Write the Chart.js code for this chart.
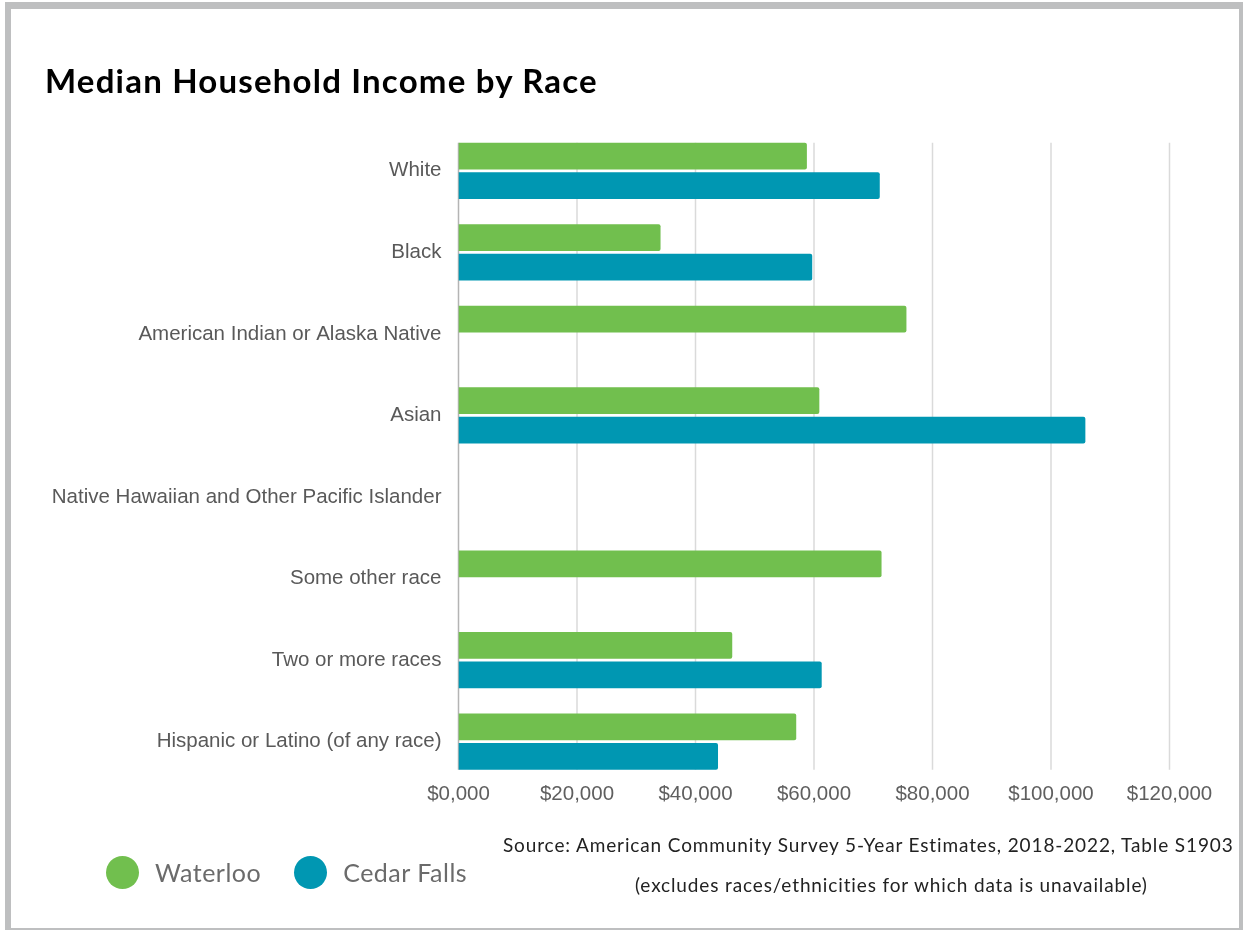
<!DOCTYPE html>
<html>
<head>
<meta charset="utf-8">
<title>Median Household Income by Race</title>
<script src="https://cdn.jsdelivr.net/npm/chart.js@4.4.1/dist/chart.umd.min.js"></script>
<style>
  html, body { margin: 0; padding: 0; background: #fff; }
  body { width: 1243px; height: 930px; position: relative; overflow: hidden; font-family: Lato, sans-serif; }
  #frame { position: absolute; left: 5px; top: 2px; width: 1238px; height: 928px; box-sizing: border-box;
           border-style: solid; border-color: #bebfc0; border-width: 7px 4px 2px 6px; }
  #chart { position: absolute; left: 0; top: 0; }
  #title { position: absolute; left: 45px; top: 64px; font: 700 33px/1 Lato, sans-serif; letter-spacing: 1.2px; color: #000; white-space: nowrap; }
  #legend { position: absolute; left: 106px; top: 855px; height: 34px; display: flex; align-items: center; }
  .item { display: flex; align-items: center; margin-right: 33px; }
  .dot { width: 33px; height: 33px; border-radius: 50%; }
  .lbl { font: 400 25px/1 Lato, sans-serif; letter-spacing: 0.5px; color: #6b6b6b; margin-left: 16px; white-space: nowrap; }
  .src { position: absolute; font: 400 19px/1 Lato, sans-serif; letter-spacing: 0.87px; color: #222; white-space: nowrap; }
  #src1 { left: 503px; top: 835px; }
  #src2 { left: 635px; top: 875px; }
</style>
</head>
<body>
<div id="frame"></div>
<canvas id="chart" width="1243" height="930"></canvas>
<div id="title">Median Household Income by Race</div>
<div id="legend"></div>
<div class="src" id="src1">Source: American Community Survey 5-Year Estimates, 2018-2022, Table S1903</div>
<div class="src" id="src2">(excludes races/ethnicities for which data is unavailable)</div>
<script>
// Categories and median household income (USD) per city
const categories = [
  'White',
  'Black',
  'American Indian or Alaska Native',
  'Asian',
  'Native Hawaiian and Other Pacific Islander',
  'Some other race',
  'Two or more races',
  'Hispanic or Latino (of any race)'
];
const waterloo   = [58800, 34100, 75600, 60900, null, 71400, 46200, 57000];
const cedarFalls = [71100, 59700, null, 105800, null, null, 61300, 43800];
const seriesNames = ['Waterloo', 'Cedar Falls'];
const xTickLabels = ['$0,000', '$20,000', '$40,000', '$60,000', '$80,000', '$100,000', '$120,000'];

const seriesColors = ['#71bf4e', '#0097b2'];

// Vertical value grid spanning the bar block, plus the zero axis line
const valueGrid = {
  id: 'valueGrid',
  beforeDatasetsDraw(chart) {
    const { ctx } = chart;
    const x = chart.scales.x;
    const m0 = chart.getDatasetMeta(0);
    const m1 = chart.getDatasetMeta(1);
    const first = m0.data[0];
    const last = m1.data[m1.data.length - 1];
    const top = first.y - first.height / 2;
    const bottom = last.y + last.height / 2;
    ctx.save();
    x.ticks.forEach((t, i) => {
      if (i === 0) return;
      const px = x.getPixelForValue(t.value);
      ctx.strokeStyle = '#dadada';
      ctx.lineWidth = 1.5;
      ctx.beginPath();
      ctx.moveTo(px, top);
      ctx.lineTo(px, bottom);
      ctx.stroke();
    });
    const x0 = x.getPixelForValue(0);
    ctx.strokeStyle = '#b4b4b4';
    ctx.lineWidth = 1.5;
    ctx.beginPath();
    ctx.moveTo(x0, top);
    ctx.lineTo(x0, bottom);
    ctx.stroke();
    ctx.restore();
  }
};

const chart = new Chart(document.getElementById('chart'), {
  type: 'bar',
  data: {
    labels: categories,
    datasets: [
      { label: seriesNames[0], data: waterloo, backgroundColor: seriesColors[0] },
      { label: seriesNames[1], data: cedarFalls, backgroundColor: seriesColors[1] }
    ]
  },
  options: {
    responsive: false,
    animation: false,
    indexAxis: 'y',
    layout: { padding: { left: 0, right: 73.5, top: 130, bottom: 107.5 } },
    datasets: { bar: { categoryPercentage: 0.7235, barPercentage: 0.905, borderRadius: 2 } },
    plugins: { legend: { display: false }, tooltip: { enabled: false } },
    scales: {
      x: {
        min: 0, max: 120000,
        ticks: {
          stepSize: 20000, autoSkip: false, maxRotation: 0, padding: 0,
          color: '#5f5f5f', font: { family: "'Liberation Sans', Arial, sans-serif", size: 20.5 },
          callback: (v, i) => xTickLabels[i]
        },
        grid: { display: false, drawTicks: false },
        border: { display: false },
        afterFit: s => { s.height = 40; }
      },
      y: {
        ticks: { autoSkip: false, padding: 17, color: '#595959', font: { family: "'Liberation Sans', Arial, sans-serif", size: 20.5 } },
        grid: { display: false, drawTicks: false },
        border: { display: false },
        afterFit: s => { s.width = 458.5; }
      }
    }
  },
  plugins: [valueGrid]
});

// Legend built from the chart's datasets
const legend = document.getElementById('legend');
chart.data.datasets.forEach(ds => {
  const item = document.createElement('div');
  item.className = 'item';
  const dot = document.createElement('div');
  dot.className = 'dot';
  dot.style.background = ds.backgroundColor;
  const lbl = document.createElement('div');
  lbl.className = 'lbl';
  lbl.textContent = ds.label;
  item.appendChild(dot);
  item.appendChild(lbl);
  legend.appendChild(item);
});
</script>
</body>
</html>
